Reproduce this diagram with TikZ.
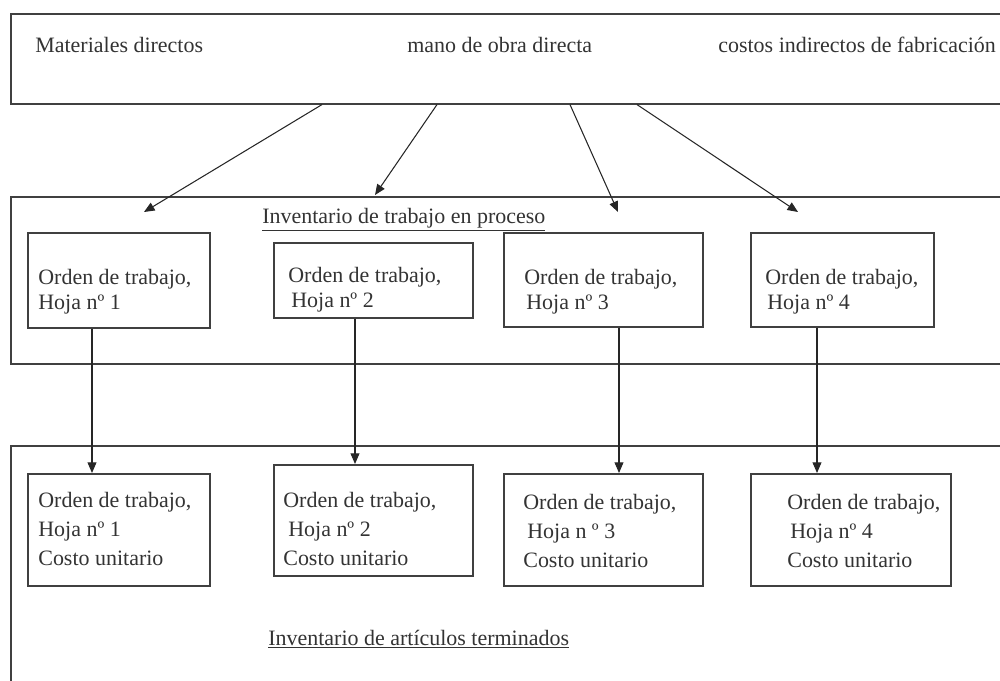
\documentclass[tikz,border=0pt]{standalone}
\usepackage{fontspec}
\setmainfont{Liberation Serif}
\usepackage{tikz}
\usetikzlibrary{arrows.meta}

\tikzset{
	bloque/.style={draw=black!75, line width=0.9pt, anchor=north west, inner sep=0pt},
	texto/.style={anchor=north west, inner sep=0pt, align=left, text=black!80,
		font=\fontsize{12.5}{14}\selectfont},
	texto2/.style={texto, font=\fontsize{12.5}{16.5}\selectfont},
	flecha/.style={draw=black!85, line width=0.6pt, -{Triangle[length=6pt,width=5pt]}}
}

\begin{document}
\begin{tikzpicture}[x=0.02cm, y=-0.02cm]

        \useasboundingbox (0,0) rectangle (1000,680);

        \node[bloque, minimum width=20cm, minimum height=1.8cm] (costos) at (10,13) {};
        \node[texto, anchor=base west] (md) at (35,52) {Materiales directos};
        \node[texto, anchor=base west] (mo) at (407,52) {mano de obra directa};
        \node[texto, anchor=base west] (ci) at (718,52) {costos indirectos de fabricación};

        \node[bloque, minimum width=20cm, minimum height=3.34cm] (proceso) at (10,196) {};
        \node[texto, anchor=base west] (tp) at (262,223) {\underline{Inventario de trabajo en proceso}};

        \node[bloque, minimum width=3.64cm, minimum height=1.9cm] (o1) at (27,232) {};
        \node[bloque, minimum width=3.98cm, minimum height=1.5cm] (o2) at (273,242) {};
        \node[bloque, minimum width=3.98cm, minimum height=1.88cm] (o3) at (503,232) {};
        \node[bloque, minimum width=3.66cm, minimum height=1.88cm] (o4) at (750,232) {};
        \node[texto] (xo1) at (38,269) {Orden de trabajo,\\Hoja nº 1};
        \node[texto] (xo2) at (288,267) {Orden de trabajo,\\\hspace*{0.06cm}Hoja nº 2};
        \node[texto] (xo3) at (524,269) {Orden de trabajo,\\\hspace*{0.04cm}Hoja nº 3};
        \node[texto] (xo4) at (765,269) {Orden de trabajo,\\\hspace*{0.04cm}Hoja nº 4};

        \node[bloque, minimum width=20cm, minimum height=4.9cm] (terminados) at (10,445) {};
        \node[texto, anchor=base west] (at) at (268,645) {\underline{Inventario de artículos terminados}};

        \node[bloque, minimum width=3.64cm, minimum height=2.24cm] (t1) at (27,473) {};
        \node[bloque, minimum width=3.98cm, minimum height=2.22cm] (t2) at (273,464) {};
        \node[bloque, minimum width=3.98cm, minimum height=2.24cm] (t3) at (503,473) {};
        \node[bloque, minimum width=4cm, minimum height=2.24cm] (t4) at (750,473) {};
        \node[texto2] (xt1) at (38,492) {Orden de trabajo,\\Hoja nº 1\\Costo unitario};
        \node[texto2] (xt2) at (283,492) {Orden de trabajo,\\\hspace*{0.1cm}Hoja nº 2\\Costo unitario};
        \node[texto2] (xt3) at (523,494) {Orden de trabajo,\\\hspace*{0.08cm}Hoja n º 3\\Costo unitario};
        \node[texto2] (xt4) at (787,494) {Orden de trabajo,\\\hspace*{0.06cm}Hoja nº 4\\Costo unitario};

        \coordinate (s1) at (322,0);
        \coordinate (s2) at (437,0);
        \coordinate (s3) at (570,0);
        \coordinate (s4) at (637,0);
        \coordinate (p1) at (144,212);
        \coordinate (p2) at (375,195);
        \coordinate (p3) at (618,212);
        \coordinate (p4) at (798,212);
        \draw[flecha] (costos.south -| s1) -- (p1);
        \draw[flecha] (costos.south -| s2) -- (p2);
        \draw[flecha] (costos.south -| s3) -- (p3);
        \draw[flecha] (costos.south -| s4) -- (p4);

        \coordinate (v1) at (92,0);
        \coordinate (v2) at (355,0);
        \coordinate (v3) at (619,0);
        \coordinate (v4) at (817,0);
        \draw[flecha] (o1.south -| v1) -- (t1.north -| v1);
        \draw[flecha] (o2.south -| v2) -- (t2.north -| v2);
        \draw[flecha] (o3.south -| v3) -- (t3.north -| v3);
        \draw[flecha] (o4.south -| v4) -- (t4.north -| v4);

\end{tikzpicture}
\end{document}
